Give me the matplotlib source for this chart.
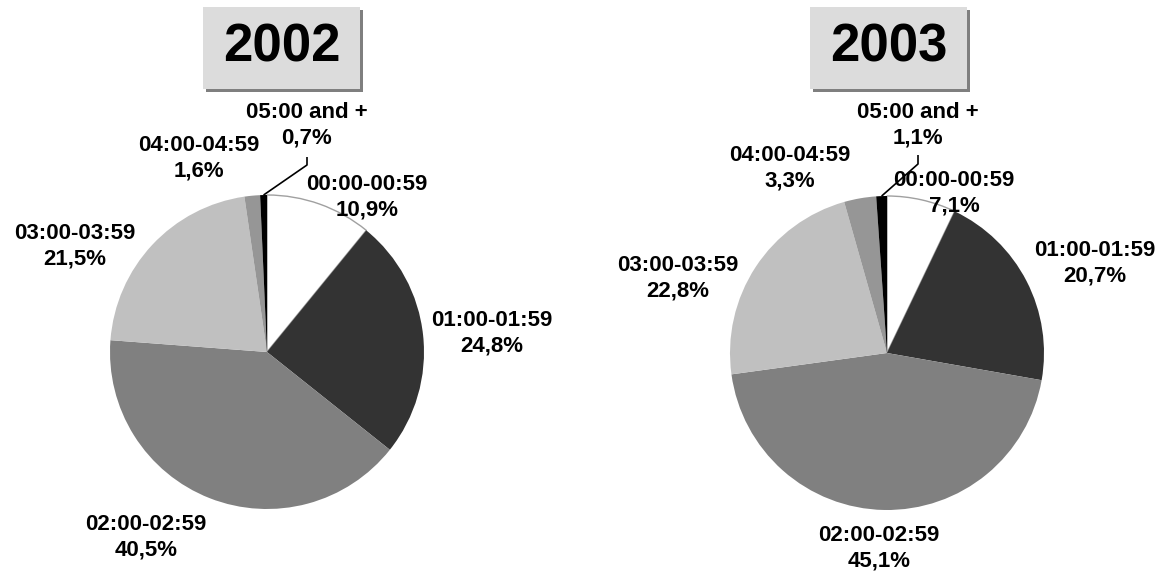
import matplotlib
matplotlib.use("Agg")
import matplotlib.pyplot as plt
from matplotlib.patches import Rectangle
import numpy as np

# ---- data -------------------------------------------------------------
categories = ["00:00-00:59", "01:00-01:59", "02:00-02:59",
              "03:00-03:59", "04:00-04:59", "05:00 and +"]
shares_2002 = [10.9, 24.8, 40.5, 21.5, 1.6, 0.7]
shares_2003 = [7.1, 20.7, 45.1, 22.8, 3.3, 1.1]
years = ["2002", "2003"]
slice_colors = ["#ffffff", "#333333", "#808080", "#c0c0c0", "#969696", "#000000"]

# ---- layout (pixel coordinates, y measured from the top) --------------
W, H = 1171, 574
pie_centers = [(267, 352), (887, 353)]
pie_radius = 157
title_boxes = [(203, 7, 157, 82), (810, 7, 157, 82)]
label_pos = [
    [(367, 197), (492, 333), (146, 537), (75, 246), (199, 158), (307, 125)],
    [(954, 193), (1095, 263), (879, 548), (678, 278), (790, 168), (918, 125)],
]
leader_elbows = [[(307, 165), (307, 157)], [(918, 164), (918, 155)]]

FONT = "Liberation Sans"

fig = plt.figure(figsize=(W / 100, H / 100), dpi=100)
ax = fig.add_axes([0, 0, 1, 1])


def Y(p):
    return H - p


def fmt(cat, v):
    return f"{cat}\n" + f"{v:.1f}".replace(".", ",") + "%"


for i, (year, shares) in enumerate(zip(years, [shares_2002, shares_2003])):
    cx, cy = pie_centers[i]
    wedges, _ = ax.pie(shares, colors=slice_colors, startangle=90,
                       counterclock=False, center=(cx, Y(cy)),
                       radius=pie_radius, normalize=True,
                       wedgeprops=dict(linewidth=0))
    wedges[0].set_edgecolor("#a0a0a0")
    wedges[0].set_linewidth(1.0)

    # title box with drop shadow
    bx, by, bw, bh = title_boxes[i]
    ax.add_patch(Rectangle((bx + 3, Y(by + bh + 3)), bw, bh,
                           facecolor="#7f7f7f", edgecolor="none", zorder=3))
    ax.add_patch(Rectangle((bx, Y(by + bh)), bw, bh,
                           facecolor="#dcdcdc", edgecolor="none", zorder=4))
    ax.text(bx + bw / 2, Y(by + bh / 2), year, ha="center", va="center",
            fontsize=38, fontweight="bold", family=FONT, zorder=5)

    # slice labels
    for j, (cat, v) in enumerate(zip(categories, shares)):
        lx, ly = label_pos[i][j]
        ax.text(lx, Y(ly), fmt(cat, v), ha="center", va="center",
                multialignment="center", fontsize=16, fontweight="bold",
                family=FONT, linespacing=1.3, zorder=6)

    # leader line for the smallest slice
    w = wedges[-1]
    mid = np.deg2rad((w.theta1 + w.theta2) / 2)
    px = cx + pie_radius * np.cos(mid)
    py = Y(cy) + pie_radius * np.sin(mid)
    xs = [px] + [e[0] for e in leader_elbows[i]]
    ys = [py] + [Y(e[1]) for e in leader_elbows[i]]
    ax.plot(xs, ys, color="black", lw=1.2, zorder=5, solid_capstyle="butt")

# pie() resets the view, so fix the pixel frame afterwards
ax.set_xlim(0, W)
ax.set_ylim(0, H)
ax.set_aspect("equal")
ax.axis("off")

fig.savefig("out.png", dpi=100, facecolor="white")
